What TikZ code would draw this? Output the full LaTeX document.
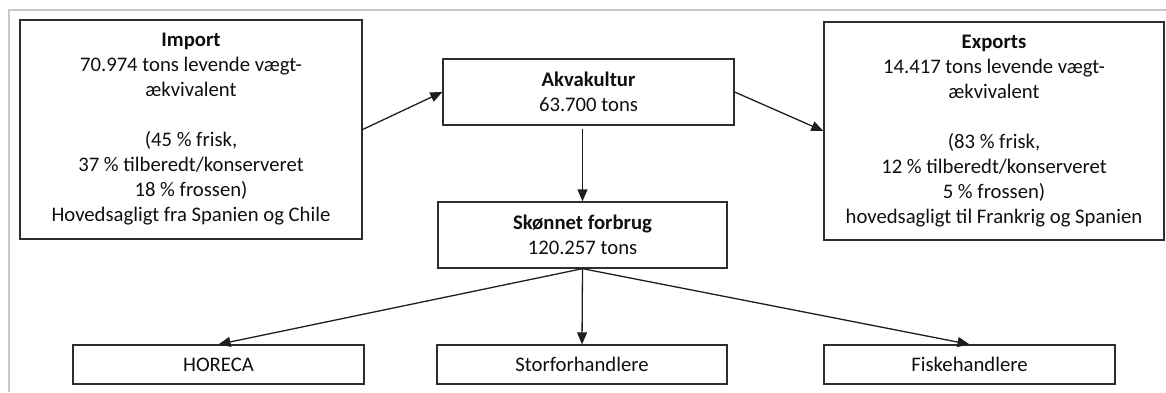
\documentclass[tikz,border=0pt]{standalone}
\usepackage{fontspec}
\setmainfont{Carlito}
\usetikzlibrary{arrows.meta}
\definecolor{boxc}{RGB}{45,45,45}
\definecolor{txtc}{RGB}{15,15,15}
\definecolor{linec}{RGB}{30,30,30}
\definecolor{framec}{RGB}{200,200,200}
\begin{document}
\begin{tikzpicture}[x=1pt,y=-1pt,
  box/.style={draw=boxc, line width=1.3pt, inner sep=0pt, align=center,
    font=\fontsize{20.7}{25}\selectfont, text=txtc},
  arr/.style={draw=linec, line width=1.3pt, -{Triangle[length=12pt,width=10pt]}}]
\useasboundingbox (0,0) rectangle (1166,392);
\draw[framec, line width=2pt] (9,392) -- (9,10) -- (1166,10);
\node[box, minimum width=342pt, minimum height=219pt] (imp) at (191,129.5)
  {\textbf{Import}\\70.974 tons levende vægt-\\ækvivalent\\[25pt](45 \% frisk,\\37 \% tilberedt/konserveret\\18 \% frossen)\\Hovedsagligt fra Spanien og Chile};
\node[box, minimum width=291pt, minimum height=66pt] (akv) at (588.5,92)
  {\textbf{Akvakultur}\\63.700 tons};
\node[box, minimum width=340pt, minimum height=218pt] (exp) at (994,131)
  {\textbf{Exports}\\14.417 tons levende vægt-\\ækvivalent\\[25pt](83 \% frisk,\\12 \% tilberedt/konserveret\\5 \% frossen)\\hovedsagligt til Frankrig og Spanien};
\node[box, minimum width=289pt, minimum height=66pt] (skon) at (582.5,235)
  {\textbf{Skønnet forbrug}\\120.257 tons};
\node[box, minimum width=291pt, minimum height=39pt] (hor) at (218.5,364.5) {HORECA};
\node[box, minimum width=290pt, minimum height=39pt] (stor) at (582,364.5) {Storforhandlere};
\node[box, minimum width=291pt, minimum height=39pt] (fisk) at (969.5,364.5) {Fiskehandlere};
\draw[arr] (imp.east) -- (akv.west);
\draw[arr] (akv.east) -- (exp.west);
\draw[arr, shorten <=3pt] (akv.south -| skon.north) -- (skon.north);
\draw[arr] (skon.south) -- (hor.north);
\draw[arr] (skon.south) -- (stor.north);
\draw[arr] (skon.south) -- (fisk.north);
\end{tikzpicture}
\end{document}
